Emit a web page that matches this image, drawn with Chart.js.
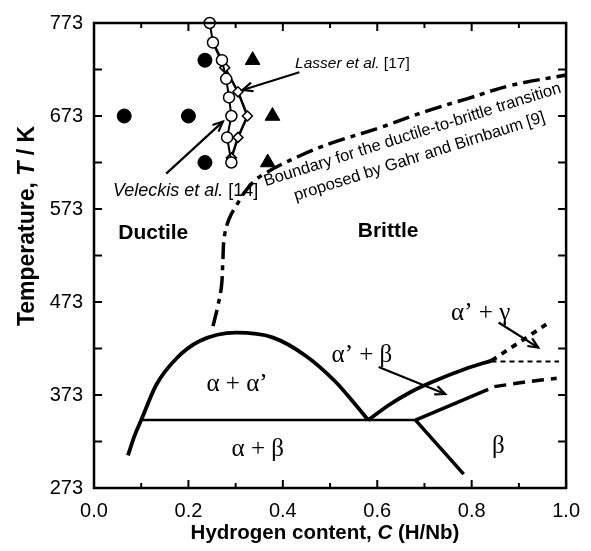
<!DOCTYPE html>
<html><head><meta charset="utf-8">
<script src="https://cdn.jsdelivr.net/npm/chart.js@4"></script>
<style>html,body{margin:0;padding:0;background:#fff}canvas{display:block}</style>
</head><body>
<canvas id="c" width="591" height="551"></canvas>
<script>
// ---------------- data ----------------
const xTickValues = [0, 0.1, 0.2, 0.3, 0.4, 0.5, 0.6, 0.7, 0.8, 0.9, 1.0];
const xTickLabels = ['0.0', '', '0.2', '', '0.4', '', '0.6', '', '0.8', '', '1.0'];
const yTickValues = [273, 323, 373, 423, 473, 523, 573, 623, 673, 723, 773];
const yTickLabels = ['273', '', '373', '', '473', '', '573', '', '673', '', '773'];

// Veleckis et al. [14] (open circles)
const veleckisC = [0.245, 0.252, 0.271, 0.280, 0.286, 0.291, 0.282, 0.291];
const veleckisT = [773, 752, 733, 713, 693, 673, 650, 623];
// Lasser et al. [17] (open diamonds)
const lasserC = [0.252, 0.277, 0.305, 0.325, 0.305, 0.291];
const lasserT = [752, 725, 699, 673, 650, 628];
// ductile (filled circles) and brittle (filled triangles) observations
const ductileC = [0.235, 0.064, 0.200, 0.235];
const ductileT = [733, 673, 673, 623];
const brittleC = [0.336, 0.378, 0.368];
const brittleT = [733, 673, 623];
// Gahr & Birnbaum ductile-to-brittle boundary
const boundaryC = [0.252, 0.262, 0.270, 0.273, 0.276, 0.286, 0.302, 0.325, 0.355, 0.435, 0.504, 0.603, 0.703, 0.793, 0.884, 1.0];
const boundaryT = [447, 468, 490, 518, 543, 562, 577, 595, 609, 630, 644, 660, 678, 692, 706, 717];
// phase diagram lines
const domeC = [0.072, 0.085, 0.100, 0.132, 0.174, 0.224, 0.301, 0.378, 0.449, 0.512, 0.550, 0.581];
const domeT = [308, 328, 346, 384, 412, 431, 440, 435, 415, 387, 365, 346];
const eutectoidC = [0.100, 0.681];
const eutectoidT = [346, 346];
const alphaBetaC = [0.581, 0.624, 0.670, 0.716, 0.786, 0.842];
const alphaBetaT = [346, 362, 376, 387, 401, 410];
const gammaUpC = [0.842, 0.899, 0.958];
const gammaUpT = [410, 429, 449];
const gammaLevelC = [0.842, 0.985];
const gammaLevelT = [409, 409];
const betaUpperC = [0.681, 0.835];
const betaUpperT = [346, 379];
const betaUpperExtC = [0.848, 0.915, 0.980];
const betaUpperExtT = [382, 387, 391];
const betaLowerC = [0.681, 0.783];
const betaLowerT = [346, 288];

// annotations (data coordinates)
const arrowFromC = [0.435, 0.153, 0.603, 0.857];
const arrowFromT = [720, 611, 403, 451];
const arrowToC = [0.315, 0.273, 0.744, 0.941];
const arrowToT = [701, 667, 374, 424];

const greekTexts = ['α + α’', 'α + β', 'α’ + β', 'α’ + γ', 'β'];
const greekC = [0.303, 0.347, 0.5675, 0.819, 0.8565];
const greekT = [384, 315, 416, 461, 318];

const regionTexts = ['Ductile', 'Brittle'];
const regionC = [0.1255, 0.623];
const regionT = [547, 549];

const boundaryLines = ['Boundary for the ductile-to-brittle transition', 'proposed by Gahr and Birnbaum [9]'];
const boundaryTextC = 0.682, boundaryTextT = 641, boundaryAngle = -17.6;

const xTitle = [['Hydrogen content, ', 'bold'], ['C', 'italic bold'], [' (H/Nb)', 'bold']];
const yTitle = [['Temperature, ', 'bold'], ['T', 'italic bold'], [' / K', 'bold']];

// ---------------- helpers ----------------
const SANS = '"Liberation Sans", Arial, sans-serif';
const SERIF = '"Liberation Serif", "Times New Roman", serif';
const pts = (cs, ts) => cs.map((c, i) => ({x: c, y: ts[i]}));

function line(ctx, x1, y1, x2, y2) { ctx.beginPath(); ctx.moveTo(x1, y1); ctx.lineTo(x2, y2); ctx.stroke(); }

function rich(ctx, segs, size, fam, x, y, align) {
  let w = 0;
  segs.forEach(s => { ctx.font = s[1] + ' ' + size + 'px ' + fam; w += ctx.measureText(s[0]).width; });
  let cx = align === 'left' ? x : x - w / 2;
  ctx.textAlign = 'left'; ctx.textBaseline = 'middle';
  segs.forEach(s => { ctx.font = s[1] + ' ' + size + 'px ' + fam; ctx.fillText(s[0], cx, y); cx += ctx.measureText(s[0]).width; });
}

function arrow(ctx, x1, y1, x2, y2) {
  ctx.lineWidth = 2.2;
  line(ctx, x1, y1, x2, y2);
  const a = Math.atan2(y2 - y1, x2 - x1), L = 11, sp = 0.42;
  ctx.beginPath();
  ctx.moveTo(x2 - L * Math.cos(a - sp), y2 - L * Math.sin(a - sp));
  ctx.lineTo(x2, y2);
  ctx.lineTo(x2 - L * Math.cos(a + sp), y2 - L * Math.sin(a + sp));
  ctx.stroke();
}

const decor = {
  id: 'decor',
  afterDraw(chart) {
    const {ctx, chartArea: a, scales: {x, y}} = chart;
    const X = v => x.getPixelForValue(v), Y = v => y.getPixelForValue(v);
    ctx.save();
    ctx.strokeStyle = '#000'; ctx.fillStyle = '#000'; ctx.lineCap = 'butt';
    // frame
    ctx.lineWidth = 2.5;
    ctx.strokeRect(a.left, a.top, a.right - a.left, a.bottom - a.top);
    // ticks (inward, mirrored)
    ctx.lineWidth = 2;
    xTickValues.forEach((v, i) => {
      const px = X(v), len = xTickLabels[i] ? 8 : 5;
      line(ctx, px, a.bottom, px, a.bottom - len);
      line(ctx, px, a.top, px, a.top + len);
    });
    yTickValues.forEach(v => {
      const py = Y(v);
      line(ctx, a.left, py, a.left + 8, py);
      line(ctx, a.right, py, a.right - 8, py);
    });
    // arrows
    arrowFromC.forEach((c, i) => arrow(ctx, X(c), Y(arrowFromT[i]), X(arrowToC[i]), Y(arrowToT[i])));
    // greek phase labels
    ctx.font = '25px ' + SERIF; ctx.textAlign = 'center'; ctx.textBaseline = 'middle';
    greekTexts.forEach((t, i) => ctx.fillText(t, X(greekC[i]), Y(greekT[i])));
    // region labels
    ctx.font = 'bold 21px ' + SANS;
    regionTexts.forEach((t, i) => ctx.fillText(t, X(regionC[i]), Y(regionT[i])));
    // reference labels
    rich(ctx, [['Lasser et al.', 'italic'], [' [17]', 'normal']], 15.5, SANS, X(0.426), Y(729), 'left');
    rich(ctx, [['Veleckis et al.', 'italic'], [' [14]', 'normal']], 18, SANS, X(0.040), Y(592), 'left');
    // rotated boundary text
    ctx.save();
    ctx.translate(X(boundaryTextC), Y(boundaryTextT));
    ctx.rotate(boundaryAngle * Math.PI / 180);
    ctx.font = '16.5px ' + SANS; ctx.textAlign = 'center'; ctx.textBaseline = 'middle';
    ctx.fillText(boundaryLines[0], 0, -11.5);
    ctx.fillText(boundaryLines[1], 0, 11.5);
    ctx.restore();
    // axis titles
    rich(ctx, xTitle, 20.5, SANS, 325, 533, 'center');
    ctx.save();
    ctx.translate(28, 226);
    ctx.rotate(-Math.PI / 2);
    rich(ctx, yTitle, 23, SANS, 0, 0, 'center');
    ctx.restore();
    ctx.restore();
  }
};

const lineDS = (cs, ts, extra) => Object.assign({
  data: pts(cs, ts), showLine: true, pointRadius: 0, borderColor: '#000',
  borderWidth: 3.5, tension: 0, fill: false
}, extra || {});

Chart.defaults.font.family = SANS;
Chart.defaults.color = '#000';

new Chart(document.getElementById('c'), {
  type: 'scatter',
  data: {
    datasets: [
      { data: pts(veleckisC, veleckisT), showLine: true, borderColor: '#000', borderWidth: 2,
        pointRadius: 5.5, pointBackgroundColor: '#fff', pointBorderColor: '#000', pointBorderWidth: 1.5, clip: false },
      { data: pts(lasserC, lasserT), showLine: true, borderColor: '#000', borderWidth: 2.5,
        pointStyle: 'rectRot', pointRadius: 5, pointBackgroundColor: '#fff', pointBorderColor: '#000', pointBorderWidth: 1.5 },
      { data: pts(ductileC, ductileT), showLine: false, pointRadius: 7, pointBackgroundColor: '#000', pointBorderColor: '#000' },
      { data: pts(brittleC, brittleT), showLine: false, pointStyle: 'triangle', pointRadius: 8.5, pointBackgroundColor: '#000', pointBorderColor: '#000' },
      lineDS(boundaryC, boundaryT, {tension: 0.4, borderDash: [17, 6, 5, 6], borderWidth: 3.5}),
      lineDS(domeC, domeT, {cubicInterpolationMode: 'monotone', borderWidth: 3.8}),
      lineDS(eutectoidC, eutectoidT, {borderWidth: 2.5}),
      lineDS(alphaBetaC, alphaBetaT, {cubicInterpolationMode: 'monotone', borderWidth: 3.8}),
      lineDS(gammaUpC, gammaUpT, {borderDash: [6, 6], borderWidth: 3.8}),
      lineDS(gammaLevelC, gammaLevelT, {borderDash: [5, 4], borderWidth: 2}),
      lineDS(betaUpperC, betaUpperT, {borderWidth: 3.5}),
      lineDS(betaUpperExtC, betaUpperExtT, {tension: 0.3, borderDash: [12, 7], borderWidth: 3.5}),
      lineDS(betaLowerC, betaLowerT, {borderWidth: 3.5})
    ]
  },
  options: {
    responsive: false, animation: false, devicePixelRatio: 1,
    layout: {padding: {top: 15, right: 23, left: 0, bottom: 0}},
    plugins: {legend: {display: false}, tooltip: {enabled: false}},
    scales: {
      x: {
        type: 'linear', min: 0, max: 1, position: 'bottom',
        afterBuildTicks: s => { s.ticks = xTickValues.map(v => ({value: v})); },
        afterFit: s => { s.height = 63; },
        grid: {display: false, drawTicks: false}, border: {display: false},
        ticks: {autoSkip: false, maxRotation: 0, padding: 11, font: {size: 20},
          callback: (v, i) => xTickLabels[i]}
      },
      y: {
        type: 'linear', min: 273, max: 773,
        afterBuildTicks: s => { s.ticks = yTickValues.map(v => ({value: v})); },
        afterFit: s => { s.width = 94; },
        grid: {display: false, drawTicks: false}, border: {display: false},
        ticks: {autoSkip: false, padding: 11, font: {size: 20},
          callback: (v, i) => yTickLabels[i]}
      }
    }
  },
  plugins: [decor]
});
</script>
</body></html>
